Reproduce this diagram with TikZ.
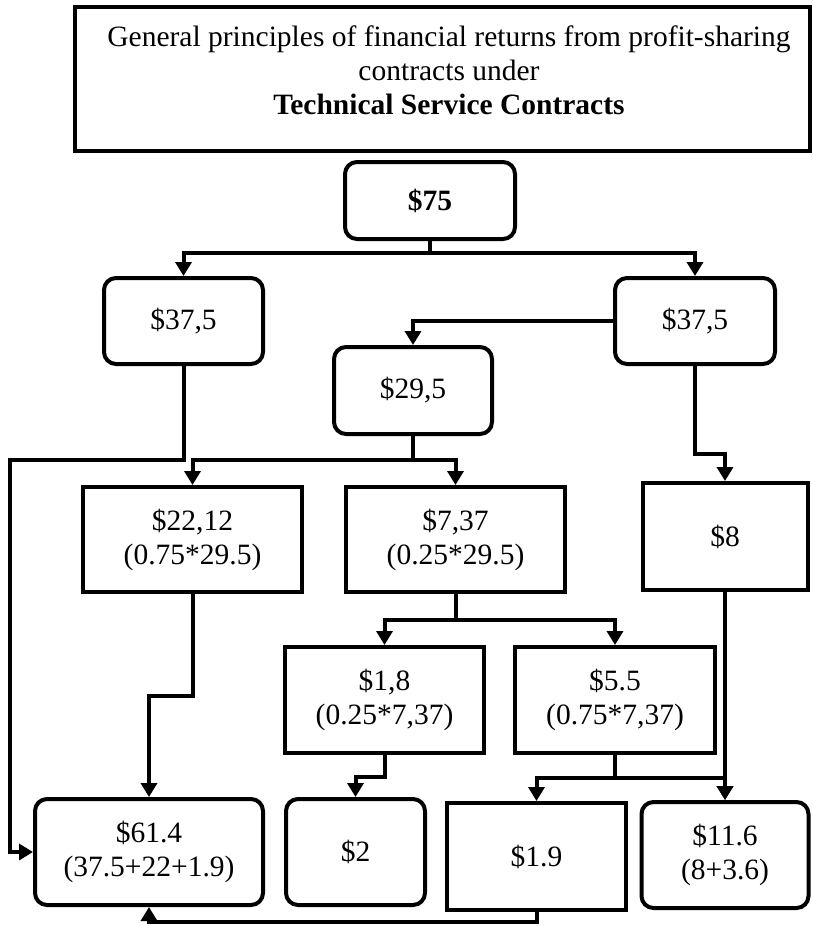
\documentclass[tikz,border=0pt]{standalone}
\usepackage{fontspec}
\setmainfont{Liberation Serif}
\usetikzlibrary{arrows.meta}

\begin{document}
\begin{tikzpicture}[x=1pt,y=-1pt,>={Triangle[length=14pt,width=16pt]},line width=4pt,
  every node/.style={font=\fontsize{29.5}{34}\selectfont,align=center,inner sep=0pt},
  rbox/.style={draw,rounded corners=12pt},
  sbox/.style={draw}]
\useasboundingbox (0,0) rectangle (812,926);
% heading
\node[sbox,minimum width=735pt,minimum height=144pt] (titlebox) at (442.5,79) {};
\node[font=\fontsize{29.5}{34}\selectfont] (title) at (449,70) {General principles of financial returns from profit-sharing\\contracts under\\\textbf{Technical Service Contracts}};
% boxes
\node[rbox,minimum width=170pt,minimum height=77pt] (n75) at (430,200.5) {\textbf{\$75}};
\node[rbox,minimum width=159pt,minimum height=86pt] (l375) at (183.5,321) {\$37,5};
\node[rbox,minimum width=160pt,minimum height=86pt] (r375) at (695,321) {\$37,5};
\node[rbox,minimum width=158pt,minimum height=87pt] (n295) at (413,390.5) {\$29,5};
\node[sbox,minimum width=219pt,minimum height=105pt] (n2212) at (192.5,539.5) {\$22,12\\(0.75*29.5)};
\node[sbox,minimum width=219pt,minimum height=105pt] (n737) at (455.5,539.5) {\$7,37\\(0.25*29.5)};
\node[sbox,minimum width=165pt,minimum height=107pt] (n8) at (725,536.5) {\$8};
\node[sbox,minimum width=199pt,minimum height=106pt] (n18) at (384.5,700) {\$1,8\\(0.25*7,37)};
\node[sbox,minimum width=200pt,minimum height=106pt] (n55) at (615,700) {\$5.5\\(0.75*7,37)};
\node[rbox,minimum width=228pt,minimum height=106pt] (n614) at (149,852) {\$61.4\\(37.5+22+1.9)};
\node[rbox,minimum width=139pt,minimum height=106pt] (n2) at (355.5,852) {\$2};
\node[sbox,minimum width=179pt,minimum height=107pt] (n19) at (536.5,856.5) {\$1.9};
\node[rbox,minimum width=167pt,minimum height=106pt] (n116) at (725,855) {\$11.6\\(8+3.6)};
% connectors
\draw[->] (n75.south) -- ++(0,12) -| (l375.north);
\draw[->] (n75.south) -- ++(0,12) -| (r375.north);
\draw[->] (r375.west) -| (n295.north);
\draw[->] (l375.south) -- ++(0,94) -- ++(-174,0) |- (n614.west);
\draw[->] (n295.south) -- ++(0,24) -| (n2212.north);
\draw[->] (n295.south) -- ++(0,24) -| (n737.north);
\draw[->] (r375.south) -- ++(0,88) -| (n8.north);
\draw[->] (n2212.south) -- ++(0,102) -| (n614.north);
\draw[->] (n737.south) -- ++(0,26) -| (n18.north);
\draw[->] (n737.south) -- ++(0,26) -| (n55.north);
\draw[->] (n8.south) -- ++(0,28) -| (n116.north);
\draw[->] (n18.south) -- ++(0,22) -| (n2.north);
\draw[->] (n55.south) -- ++(0,23) -| (n19.north);
\draw[->] (n55.south) -- ++(0,23) -| (n116.north);
\draw[->] (n19.south) -- ++(0,10) -| (n614.south);
\end{tikzpicture}
\end{document}
